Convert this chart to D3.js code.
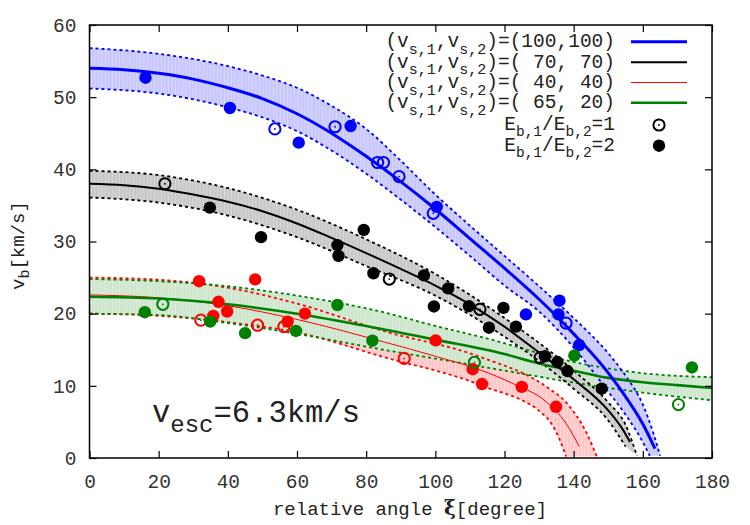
<!DOCTYPE html>
<html>
<head>
<meta charset="utf-8">
<script src="https://cdn.jsdelivr.net/npm/d3@7"></script>
<style>
  body { margin: 0; background: #fff; }
  text { font-family: "Liberation Mono", "Courier New", monospace; }
</style>
</head>
<body>
<svg id="chart" width="750" height="525"></svg>
<script>
// model curves [angle, v_b]
const blueMid = [[0,54.0],[10,53.8],[20,53.3],[30,52.5],[40,51.3],[50,49.8],[60,47.7],[70,45.0],[80,41.8],[90,38.3],[100,34.5],[110,30.4],[120,26.3],[130,22.0],[140,17.2],[150,11.8],[155,8.5],[160,4.7],[163.5,1.3]];
const blueHi = [[0,56.8],[20,56.0],[40,54.3],[50,53.0],[60,51.3],[70,48.8],[80,45.6],[90,41.2],[100,36.5],[110,32.2],[120,28.0],[130,23.8],[140,19.4],[150,14.5],[155,11.4],[160,7.4],[163,3.5],[165,0.3]];
const blueLo = [[0,51.2],[20,50.5],[40,48.6],[50,47.2],[60,45.3],[70,42.6],[80,39.4],[90,35.8],[100,32.0],[110,28.0],[120,23.9],[130,20.3],[140,15.3],[150,9.2],[155,6.0],[160,2.2],[162,0.3]];

const blackMid = [[0,38.0],[10,37.8],[20,37.3],[30,36.5],[40,35.5],[50,34.2],[60,32.5],[70,30.5],[80,28.4],[90,26.2],[100,23.9],[110,21.3],[120,18.2],[130,14.6],[140,10.9],[150,6.6],[154,4.1],[156.3,2.2]];
const blackHi = [[0,39.8],[20,39.2],[40,37.4],[60,34.4],[80,30.3],[100,25.5],[120,19.4],[140,12.1],[150,7.7],[155,4.6],[158.3,0.3]];
const blackLo = [[0,36.1],[20,35.4],[40,33.6],[60,30.6],[80,26.6],[100,22.5],[120,16.8],[140,9.6],[150,5.2],[155,1.6]];

const redMid = [[0,22.6],[20,22.2],[40,21.1],[60,19.2],[85,16.1],[100,14.1],[113,12.2],[122.5,10.3],[132,7.8],[137.8,4.8],[141.6,1.6]];
const redHi = [[0,25.0],[20,24.7],[40,23.6],[60,21.4],[85,17.6],[113,14.0],[132,9.9],[138,7.6],[143.8,3.4],[146.7,0.2]];
const redLo = [[0,20.0],[20,19.7],[42,18.7],[60,17.4],[85,14.0],[113,10.1],[132,5.7],[136,2.5],[137.8,0.2]];

const greenMid = [[0,22.35],[20,22.1],[40,21.3],[60,20.0],[80,18.3],[100,16.4],[120,14.4],[130,13.1],[140,12.1],[150,11.1],[160,10.5],[170,10.1],[180,9.7]];
const greenHi = [[0,24.8],[20,24.5],[40,23.8],[60,22.5],[85,20.2],[100,18.3],[113,16.8],[142,13.1],[161,11.7],[180,11.2]];
const greenLo = [[0,20.0],[20,19.8],[40,18.7],[60,17.2],[85,15.0],[113,12.7],[142,10.3],[161,9.0],[180,8.0]];

// simulation points: "2" = E_b1/E_b2=2 (filled), "1" = E_b1/E_b2=1 (open)
const blue2 = [[16.2,52.7],[40.6,48.5],[60.5,43.7],[75.5,46.0],[100.4,34.8],[126.2,19.9],[135.9,21.8],[135.6,19.9],[141.6,15.65]];
const blue1 = [[53.6,45.6],[71,45.9],[83.3,40.95],[85,40.95],[89.5,39.0],[99.4,33.9],[137.8,18.7]];
const black2 = [[34.8,34.7],[49.6,30.6],[71.7,29.5],[72,28.0],[79.3,31.6],[82.1,25.6],[96.7,25.3],[99.6,21.0],[103.7,23.5],[109.7,21.05],[115.5,18.05],[119.7,20.8],[123.3,18.2],[131.7,14.1],[135.3,13.3],[138.2,12.05],[148.1,9.6]];
const black1 = [[21.8,38.0],[86.7,24.8],[112.9,20.6],[130.3,13.9]];
const red2 = [[31.7,24.5],[47.9,24.75],[37.3,21.65],[35.8,19.7],[39.8,20.3],[57.3,18.9],[62.3,20.0],[100.1,16.3],[110.8,12.3],[113.5,10.25],[125,9.85],[134.9,7.1]];
const red1 = [[32.2,19.1],[48.6,18.4],[56.2,18.2],[91,13.8]];
const green2 = [[16,20.2],[34.9,18.9],[45,17.3],[59.7,17.6],[71.7,21.2],[81.8,16.25],[140.2,14.2],[174.2,12.55]];
const green1 = [[21.2,21.3],[111.3,13.25],[170.3,7.4]];

const xTicks = [0,20,40,60,80,100,120,140,160,180];
const yTicks = [0,10,20,30,40,50,60];
const legendPairs = ["(100,100)", "( 70, 70)", "( 40, 40)", "( 65, 20)"];
const ratioLabels = ["1", "2"];

const svg = d3.select("#chart");
const x = d3.scaleLinear().domain([0, 180]).range([89.5, 712]);
const y = d3.scaleLinear().domain([0, 60]).range([458, 25]);

const series = [
  {name: "red", mid: redMid, hi: redHi, lo: redLo, color: "#ff0000", band: "#ffc8c8", w: 1, p2: red2, p1: red1},
  {name: "green", mid: greenMid, hi: greenHi, lo: greenLo, color: "#008000", band: "#cde6cd", w: 2.6, p2: green2, p1: green1},
  {name: "black", mid: blackMid, hi: blackHi, lo: blackLo, color: "#000000", band: "#c8c8c8", w: 2, p2: black2, p1: black1},
  {name: "blue", mid: blueMid, hi: blueHi, lo: blueLo, color: "#0000ff", band: "#c8c8ff", w: 3, p2: blue2, p1: blue1}
];

const defs = svg.append("defs");
defs.append("clipPath").attr("id", "plotclip")
  .append("rect").attr("x", x(0)).attr("y", y(60)).attr("width", x(180) - x(0)).attr("height", y(0) - y(60));

series.forEach(s => {
  let p = defs.append("pattern").attr("id", "pat-" + s.name)
    .attr("patternUnits", "userSpaceOnUse").attr("width", 3.5).attr("height", 10);
  p.append("rect").attr("width", 3.5).attr("height", 10).attr("fill", s.band);
  p.append("rect").attr("width", 0.6).attr("height", 10).attr("fill", "#fff").attr("opacity", 0.45);
});

let line = d3.line()
  .x(d => x(d[0]))
  .y(d => y(d[1]))
  .curve(d3.curveMonotoneX);

function bandPath(hi, lo) {
  return line(hi) + line(lo.slice().reverse()).replace(/^M/, "L") + "Z";
}

let plot = svg.append("g").attr("clip-path", "url(#plotclip)");

// bands + dashed limits
series.forEach(s => {
  plot.append("path").attr("d", bandPath(s.hi, s.lo)).attr("fill", "url(#pat-" + s.name + ")");
});
series.forEach(s => {
  [s.hi, s.lo].forEach(b => {
    plot.append("path").attr("d", line(b))
      .attr("fill", "none").attr("stroke", s.color)
      .attr("stroke-width", 1.8).attr("stroke-dasharray", "3,3");
  });
});
series.forEach(s => {
  plot.append("path").attr("d", line(s.mid))
    .attr("fill", "none").attr("stroke", s.color).attr("stroke-width", s.w);
});

// points
let pts = svg.append("g");
[series[3], series[2], series[0], series[1]].forEach(s => {
  pts.selectAll(null).data(s.p2).enter().append("circle")
    .attr("cx", d => x(d[0])).attr("cy", d => y(d[1])).attr("r", 6.2)
    .attr("fill", s.color);
  let g1 = pts.selectAll(null).data(s.p1).enter().append("g")
    .attr("transform", d => "translate(" + x(d[0]) + "," + y(d[1]) + ")");
  g1.append("circle").attr("r", 5.6).attr("fill", "none").attr("stroke", s.color).attr("stroke-width", 2);
  g1.append("circle").attr("r", 0.9).attr("fill", s.color);
});

// axes, ticks on all four sides pointing inward
function styleAxis(g) {
  g.select(".domain").remove();
  g.selectAll(".tick line").attr("stroke", "#000").attr("stroke-width", 1.2);
  g.selectAll(".tick text").attr("fill", "#333").style("font-size", "19.5px")
    .style("font-family", "'Liberation Mono', monospace");
}
svg.append("g").attr("transform", "translate(0," + y(0) + ")")
  .call(d3.axisBottom(x).tickValues(xTicks).tickSizeInner(-7).tickSizeOuter(0).tickPadding(16))
  .call(styleAxis);
svg.append("g").attr("transform", "translate(" + x(0) + ",0)")
  .call(d3.axisLeft(y).tickValues(yTicks).tickSizeInner(-7).tickSizeOuter(0).tickPadding(13))
  .call(styleAxis);
svg.append("g").attr("transform", "translate(0," + y(60) + ")")
  .call(d3.axisTop(x).tickValues(xTicks).tickSizeInner(-7).tickSizeOuter(0).tickFormat(""))
  .call(styleAxis);
svg.append("g").attr("transform", "translate(" + x(180) + ",0)")
  .call(d3.axisRight(y).tickValues(yTicks).tickSizeInner(-7).tickSizeOuter(0).tickFormat(""))
  .call(styleAxis);

svg.append("rect")
  .attr("x", x(0)).attr("y", y(60)).attr("width", x(180) - x(0)).attr("height", y(0) - y(60))
  .attr("fill", "none").attr("stroke", "#000").attr("stroke-width", 1.5);

// text with subscripts: parts = [[text, isSub], ...]
function richText(parent, parts, big, small, shift) {
  let t = parent.append("text").attr("fill", "#222").style("white-space", "pre");
  let down = false;
  parts.forEach(p => {
    let ts = t.append("tspan").text(p[0]).style("font-size", (p[1] ? small : big) + "px");
    if (p[1] && !down) { ts.attr("dy", shift); down = true; }
    else if (!p[1] && down) { ts.attr("dy", -shift); down = false; }
  });
  return t;
}

// legend
let legY = [47.3, 67.8, 88.1, 108.4];
let legOrder = ["blue", "black", "red", "green"];
legOrder.forEach((name, i) => {
  let ss = series.find(d => d.name === name);
  richText(svg, [["(v", false], ["s,1", true], [",v", false], ["s,2", true], [")=" + legendPairs[i], false]], 19.5, 15, 6.5)
    .attr("x", 615).attr("y", legY[i]).attr("text-anchor", "end");
  svg.append("line").attr("x1", 631).attr("x2", 687)
    .attr("y1", legY[i] - 5.6).attr("y2", legY[i] - 5.6)
    .attr("stroke", ss.color).attr("stroke-width", ss.w);
});
let ratioY = [130.3, 151];
ratioLabels.forEach((r, i) => {
  richText(svg, [["E", false], ["b,1", true], ["/E", false], ["b,2", true], ["=" + r, false]], 19.5, 14.5, 5.5)
    .attr("x", 615).attr("y", ratioY[i]).attr("text-anchor", "end");
  let cy = ratioY[i] - 5.3;
  if (r === "2") {
    svg.append("circle").attr("cx", 659).attr("cy", cy).attr("r", 6.2).attr("fill", "#000");
  } else {
    svg.append("circle").attr("cx", 659).attr("cy", cy).attr("r", 5.6).attr("fill", "none").attr("stroke", "#000").attr("stroke-width", 2);
    svg.append("circle").attr("cx", 659).attr("cy", cy).attr("r", 0.9).attr("fill", "#000");
  }
});

// annotation
richText(svg, [["v", false], ["esc", true], ["=6.3km/s", false]], 30.5, 24, 10)
  .attr("x", 152).attr("y", 421.7);

// axis titles
let xl = svg.append("text").attr("x", 410).attr("y", 515).attr("text-anchor", "middle")
  .attr("fill", "#222").style("font-size", "19px").style("white-space", "pre");
xl.append("tspan").text("relative angle ");
xl.append("tspan").text("ξ").style("font-family", "'DejaVu Serif', serif").style("font-size", "20px").style("font-weight", "bold");
xl.append("tspan").text("[degree]");

richText(svg, [["v", false], ["b", true], ["[km/s]", false]], 19, 15, 5)
  .attr("transform", "translate(24,290) rotate(-90)");
</script>
</body>
</html>
